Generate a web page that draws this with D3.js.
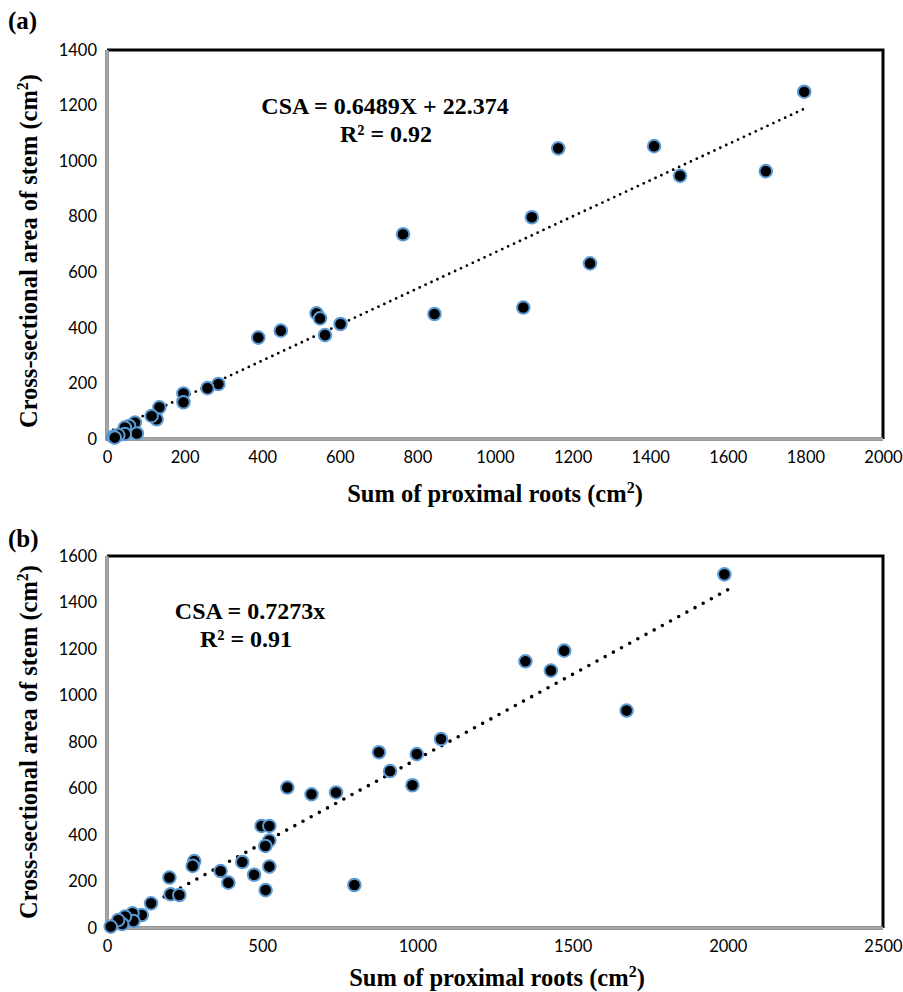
<!DOCTYPE html>
<html>
<head>
<meta charset="utf-8">
<script src="https://cdn.jsdelivr.net/npm/d3@7"></script>
<style>
  body { margin: 0; background: #fff; }
  svg text { fill: #000; }
</style>
</head>
<body>
<svg id="chart" width="903" height="992"></svg>
<script>
(function () {
    'use strict';

    // panel (a) values
    var rootsA = [763, 390, 448, 540, 549, 562, 602, 844, 287, 259, 197, 197, 135, 128, 115, 72, 57, 46, 77, 46, 29, 16, 20,
                  1163, 1410, 1477, 1698, 1797, 1095, 1245, 1073];
    var csaA   = [737, 365, 390, 452, 434, 374, 414, 450, 198, 183, 164, 132, 114, 71, 83, 59, 47, 41, 20, 18, 14, 8, 5,
                  1046, 1054, 947, 964, 1250, 798, 632, 473];
    var xTicksA = [0, 200, 400, 600, 800, 1000, 1200, 1400, 1600, 1800, 2000];
    var yTicksA = [0, 200, 400, 600, 800, 1000, 1200, 1400];
    var slopeA = 0.6489, interceptA = 22.374;

    // panel (b) values
    var rootsB = [876, 998, 912, 984, 1076, 581, 659, 738, 498, 523, 523, 510, 523, 511, 797, 436, 474, 366, 391, 281, 276,
                  201, 205, 233, 142, 112, 82, 85, 58, 49, 36, 12,
                  1989, 1473, 1348, 1430, 1674];
    var csaB   = [756, 748, 675, 614, 813, 604, 575, 583, 439, 439, 376, 353, 264, 163, 185, 284, 229, 245, 195, 288, 267,
                  217, 145, 142, 106, 56, 63, 30, 49, 17, 34, 6,
                  1521, 1193, 1147, 1107, 935];
    var xTicksB = [0, 500, 1000, 1500, 2000, 2500];
    var yTicksB = [0, 200, 400, 600, 800, 1000, 1200, 1400, 1600];
    var slopeB = 0.7273, interceptB = 0;

    var svg = d3.select("#chart");

    function panel(opt) {
        var x = d3.scaleLinear().domain([0, opt.xMax]).range([107, 883]);
        var y = d3.scaleLinear().domain([0, opt.yMax]).range([opt.bottom, opt.top]);
        var g = svg.append("g");

        // panel letter
        g.append("text")
            .attr("x", 8).attr("y", opt.letterY)
            .style("font", "bold 25px 'Liberation Serif', serif")
            .text(opt.letter);

        // frame: black top / right, grey double line left / bottom
        g.append("path")
            .attr("d", "M107," + opt.top + "H883V" + opt.bottom)
            .attr("fill", "none").attr("stroke", "#000").attr("stroke-width", 3);
        g.append("path")
            .attr("d", "M107," + opt.top + "V" + opt.bottom + "H883")
            .attr("fill", "none").attr("stroke", "#777").attr("stroke-width", 3.5);
        g.append("path")
            .attr("d", "M107," + opt.top + "V" + opt.bottom + "H883")
            .attr("fill", "none").attr("stroke", "#d8d8d8").attr("stroke-width", 1);

        // tick labels through d3 axes, lines hidden
        var ya = g.append("g").attr("transform", "translate(107,0)")
            .call(d3.axisLeft(y).tickValues(opt.yTicks).tickSize(0).tickPadding(10).tickFormat(d3.format("d")));
        var xa = g.append("g").attr("transform", "translate(0," + opt.bottom + ")")
            .call(d3.axisBottom(x).tickValues(opt.xTicks).tickSize(0).tickPadding(12).tickFormat(d3.format("d")));
        [ya, xa].forEach(function (a) {
            a.select(".domain").remove();
            a.selectAll("text")
                .style("font-family", "Lato, 'Open Sans', sans-serif")
                .style("font-size", "16.5px")
                .attr("fill", "#000");
        });

        // trend line
        var t0 = opt.trendFrom, t1 = d3.max(opt.xs);
        if (opt.trendTo) t1 = opt.trendTo;
        g.append("line")
            .attr("x1", x(t0)).attr("y1", y(opt.slope * t0 + opt.intercept))
            .attr("x2", x(t1)).attr("y2", y(opt.slope * t1 + opt.intercept))
            .attr("stroke", "#000")
            .attr("stroke-width", opt.dotW)
            .attr("stroke-linecap", "round")
            .attr("stroke-dasharray", "0," + opt.dotGap);

        // points
        g.selectAll("circle.pt")
            .data(d3.range(opt.xs.length))
            .enter().append("circle")
            .attr("class", "pt")
            .attr("cx", function (i) { return x(opt.xs[i]); })
            .attr("cy", function (i) { return y(opt.ys[i]); })
            .attr("r", 6.3)
            .attr("fill", "#000")
            .attr("stroke", "#5b9bd5")
            .attr("stroke-width", 2);

        // equation
        var eq = g.append("text")
            .attr("text-anchor", "middle")
            .style("font", "bold 24px 'Liberation Serif', serif");
        eq.append("tspan").attr("x", opt.eqX).attr("y", opt.eqY).text(opt.eq1);
        eq.append("tspan").attr("x", opt.eqX2).attr("y", opt.eqY + 28).text(opt.eq2);

        // axis titles
        var xt = g.append("text")
            .attr("x", opt.xTitleX).attr("y", opt.xTitleY)
            .attr("text-anchor", "middle")
            .style("font", "bold 24.5px 'Liberation Serif', serif");
        xt.append("tspan").text(opt.xTitle);
        xt.append("tspan").attr("dy", -9).style("font-size", "16px").text("2");
        xt.append("tspan").attr("dy", 9).text(")");

        var yt = g.append("text")
            .attr("transform", "translate(37," + opt.yTitleY + ") rotate(-90)")
            .attr("text-anchor", "middle")
            .style("font", "bold 24.5px 'Liberation Serif', serif");
        yt.append("tspan").text("Cross-sectional area of stem (cm");
        yt.append("tspan").attr("dy", -9).style("font-size", "16px").text("2");
        yt.append("tspan").attr("dy", 9).text(")");
    }

    panel({
        letter: "(a)", letterY: 29,
        top: 50, bottom: 439, xMax: 2000, yMax: 1400,
        xTicks: xTicksA, yTicks: yTicksA,
        xs: rootsA, ys: csaA,
        slope: slopeA, intercept: interceptA, trendFrom: 16,
        dotW: 2.8, dotGap: 6.5,
        eq1: "CSA = 0.6489X + 22.374", eq2: "R\u00b2 = 0.92", eqX: 385, eqX2: 386, eqY: 114,
        xTitle: "Sum of proximal roots  (cm", xTitleX: 495, xTitleY: 502,
        yTitleY: 251
    });

    panel({
        letter: "(b)", letterY: 547,
        top: 556, bottom: 928, xMax: 2500, yMax: 1600,
        xTicks: xTicksB, yTicks: yTicksB,
        xs: rootsB, ys: csaB,
        slope: slopeB, intercept: interceptB, trendFrom: 0, trendTo: 2000,
        dotW: 3.6, dotGap: 9.3,
        eq1: "CSA = 0.7273x", eq2: "R\u00b2 = 0.91", eqX: 250, eqX2: 246, eqY: 619,
        xTitle: "Sum of proximal roots (cm", xTitleX: 497, xTitleY: 986,
        yTitleY: 742
    });
}());
</script>
</body>
</html>
